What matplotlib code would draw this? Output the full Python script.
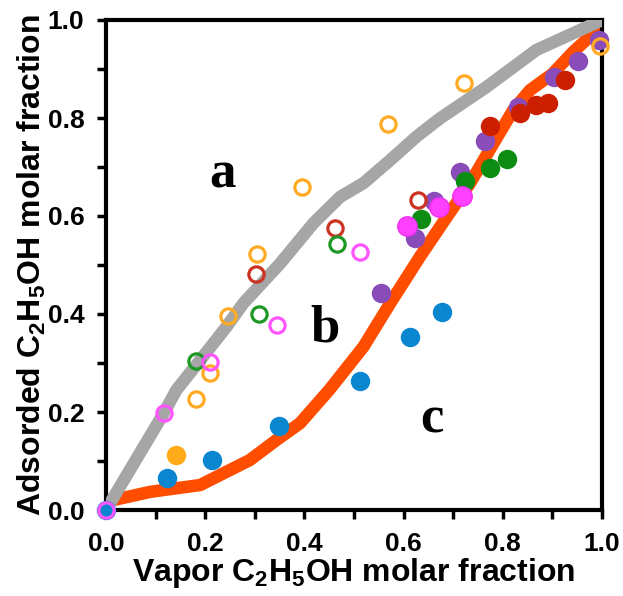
import matplotlib
matplotlib.use("Agg")
import matplotlib.pyplot as plt
from matplotlib.ticker import MultipleLocator, FormatStrFormatter

plt.rcParams["font.family"] = ["Liberation Sans", "DejaVu Sans"]
plt.rcParams["font.weight"] = "bold"
plt.rcParams["mathtext.fontset"] = "custom"
plt.rcParams["mathtext.rm"] = "Liberation Sans:bold"
plt.rcParams["mathtext.it"] = "Liberation Sans:bold"
plt.rcParams["mathtext.bf"] = "Liberation Sans:bold"
plt.rcParams["mathtext.default"] = "rm"

# model curves
gray_x = [0.0, 0.116, 0.142, 0.19, 0.243, 0.277, 0.351, 0.418, 0.472, 0.519,
          0.573, 0.626, 0.673, 0.768, 0.868, 0.942, 1.0]
gray_y = [0.0, 0.197, 0.245, 0.306, 0.374, 0.422, 0.503, 0.585, 0.639, 0.667,
          0.714, 0.762, 0.799, 0.864, 0.939, 0.973, 1.0]
orange_x = [0.0, 0.089, 0.19, 0.29, 0.344, 0.391, 0.45, 0.519, 0.573, 0.633,
            0.683, 0.734, 0.781, 0.821, 0.855, 0.90, 0.942, 0.985, 1.0]
orange_y = [0.017, 0.037, 0.051, 0.102, 0.143, 0.177, 0.245, 0.333, 0.422, 0.517,
            0.592, 0.667, 0.748, 0.816, 0.857, 0.89, 0.935, 0.975, 0.985]

# open symbols
open_orange_x = [0.182, 0.210, 0.245, 0.304, 0.395, 0.569, 0.722, 0.995]
open_orange_y = [0.226, 0.279, 0.395, 0.522, 0.659, 0.788, 0.872, 0.946]
open_red_x = [0.302, 0.462, 0.629]
open_red_y = [0.482, 0.575, 0.632]
open_green_x = [0.182, 0.308, 0.465]
open_green_y = [0.305, 0.400, 0.542]
open_pink_x = [0.0, 0.116, 0.209, 0.345, 0.512]
open_pink_y = [0.0, 0.198, 0.302, 0.377, 0.527]

# filled symbols
blue_x = [0.0, 0.122, 0.214, 0.349, 0.512, 0.612, 0.677]
blue_y = [0.0, 0.065, 0.102, 0.172, 0.264, 0.354, 0.405]
fill_orange_x = [0.141]
fill_orange_y = [0.113]
purple_x = [0.554, 0.622, 0.661, 0.713, 0.764, 0.831, 0.903, 0.952, 0.993]
purple_y = [0.443, 0.556, 0.631, 0.690, 0.753, 0.823, 0.883, 0.916, 0.959]
red_x = [0.774, 0.835, 0.866, 0.891, 0.925]
red_y = [0.783, 0.811, 0.827, 0.830, 0.878]
green_x = [0.635, 0.724, 0.774, 0.808]
green_y = [0.594, 0.671, 0.698, 0.716]
pink_x = [0.607, 0.671, 0.718]
pink_y = [0.580, 0.619, 0.641]

fig = plt.figure(figsize=(6.23, 5.96), dpi=100)
ax = fig.add_axes([106 / 623, 86 / 596, 496 / 623, 490 / 596])

ax.plot(orange_x, orange_y, color="#ff4d00", lw=9, solid_capstyle="butt",
        solid_joinstyle="round", zorder=2)
ax.plot(gray_x, gray_y, color="#a6a6a6", lw=9, solid_capstyle="butt",
        solid_joinstyle="round", zorder=3)

fs = 14
kw = dict(linestyle="none", clip_on=False)
ax.plot(blue_x, blue_y, "o", ms=fs, color="#0a86d0", mec="none", zorder=4, **kw)
ax.plot(fill_orange_x, fill_orange_y, "o", ms=fs, color="#ffab1a", mec="none", zorder=4, **kw)
ax.plot(purple_x, purple_y, "o", ms=fs, color="#8a4cb8", mec="none", zorder=5, **kw)
ax.plot(red_x, red_y, "o", ms=fs, color="#cc1f00", mec="none", zorder=6, **kw)
ax.plot(green_x, green_y, "o", ms=fs, color="#0d8c14", mec="none", zorder=6, **kw)
ax.plot(pink_x, pink_y, "o", ms=fs, color="#ff40ff", mec="#f030f0", mew=1, zorder=7, **kw)

os_ = 11
ax.plot(open_orange_x, open_orange_y, "o", ms=os_, mfc="none", mec="#ffaa22", mew=2.3, zorder=5, **kw)
ax.plot(open_red_x, open_red_y, "o", ms=os_, mfc="none", mec="#cc3322", mew=2.3, zorder=5, **kw)
ax.plot(open_green_x, open_green_y, "o", ms=os_, mfc="none", mec="#1f9926", mew=2.3, zorder=5, **kw)
ax.plot(open_pink_x, open_pink_y, "o", ms=os_, mfc="none", mec="#ff55ff", mew=2.3, zorder=8, **kw)

ax.set_xlim(0, 1)
ax.set_ylim(0, 1)
for sp in ax.spines.values():
    sp.set_linewidth(3)
ax.xaxis.set_major_locator(MultipleLocator(0.2))
ax.xaxis.set_minor_locator(MultipleLocator(0.1))
ax.yaxis.set_major_locator(MultipleLocator(0.2))
ax.yaxis.set_minor_locator(MultipleLocator(0.1))
ax.xaxis.set_major_formatter(FormatStrFormatter("%.1f"))
ax.yaxis.set_major_formatter(FormatStrFormatter("%.1f"))
ax.tick_params(which="both", direction="out", length=6.5, width=2.5, top=False, right=False)
ax.tick_params(which="major", labelsize=19, pad=9)

ax.set_xlabel(r"Vapor C$_2$H$_5$OH molar fraction", fontsize=23, fontweight="bold", labelpad=0)
ax.set_ylabel(r"Adsorded C$_2$H$_5$OH molar fraction", fontsize=23, fontweight="bold", labelpad=0)

for txt, x, y in [("a", 0.234, 0.684), ("b", 0.442, 0.371), ("c", 0.657, 0.184)]:
    ax.text(x, y, txt, fontsize=38, fontweight="bold", family="Liberation Serif",
            ha="center", va="center", zorder=9)

fig.savefig("out.png", dpi=100)
